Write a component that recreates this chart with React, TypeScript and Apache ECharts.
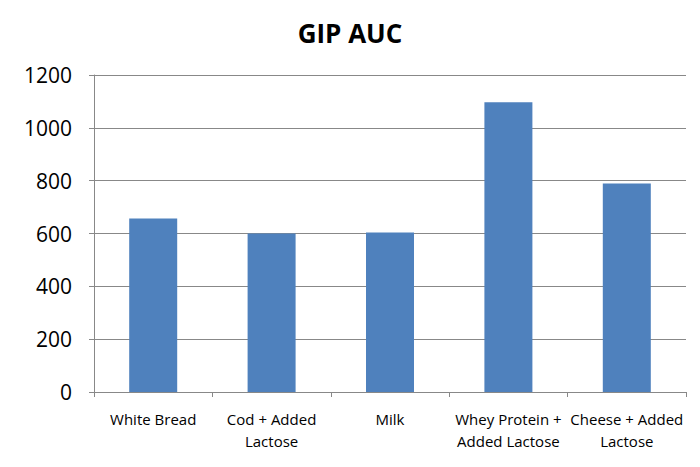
import React, { useEffect, useRef } from "react";
import * as echarts from "echarts";

const categories = ["White Bread", "Cod + Added\nLactose", "Milk", "Whey Protein +\nAdded Lactose", "Cheese + Added\nLactose"];
const values = [657, 600, 604, 1097, 789];
const yTicks = { min: 0, max: 1200, interval: 200 };

export default function App() {
  const ref = useRef<HTMLDivElement>(null);
  useEffect(() => {
    if (!ref.current) return;
    const chart = echarts.init(ref.current, null, { renderer: "svg" });
    chart.setOption({
      animation: false,
      backgroundColor: "#ffffff",
      title: {
        text: "GIP AUC",
        left: "center",
        top: 15,
        textStyle: { fontFamily: "Open Sans", fontWeight: "bold", fontSize: 26, color: "#000" },
      },
      grid: { left: 94, right: 14, top: 75, bottom: 75, containLabel: false },
      xAxis: {
        type: "category",
        data: categories,
        axisLine: { show: true, lineStyle: { color: "#888888", width: 1 } },
        axisTick: { show: true, length: 5, lineStyle: { color: "#888888" } },
        axisLabel: {
          fontFamily: "Open Sans",
          fontSize: 15,
          color: "#000",
          margin: 16,
          lineHeight: 22,
          interval: 0,
        },
      },
      yAxis: {
        type: "value",
        min: yTicks.min,
        max: yTicks.max,
        interval: yTicks.interval,
        axisLine: { show: true, lineStyle: { color: "#888888", width: 1 } },
        axisTick: { show: true, length: 5, lineStyle: { color: "#888888" } },
        splitLine: { show: true, lineStyle: { color: "#888888", width: 1 } },
        axisLabel: {
          fontFamily: "Open Sans",
          fontSize: 21,
          color: "#000",
          margin: 22,
          formatter: (v: number) => String(v),
        },
      },
      series: [
        {
          type: "bar",
          data: values,
          barWidth: 48,
          itemStyle: { color: "#4f81bd" },
        },
      ],
    });
    return () => chart.dispose();
  }, []);
  return <div ref={ref} style={{ width: 700, height: 467, position: "absolute", left: 0, top: 0 }} />;
}
